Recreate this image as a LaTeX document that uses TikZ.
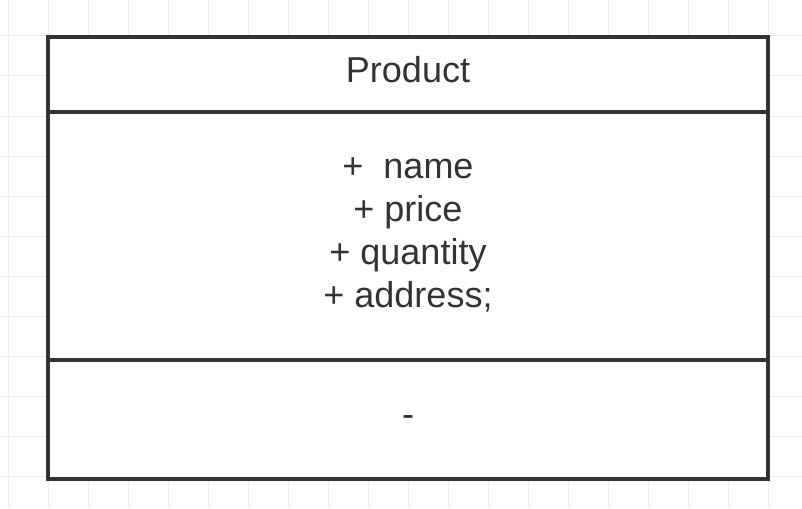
\documentclass[tikz,border=0pt]{standalone}
\usepackage{fontspec}
\setmainfont{Liberation Sans}
\usepackage{tikz}
\usepackage{xcolor}
\usetikzlibrary{positioning, calc}
\definecolor{InkGray}{HTML}{333333}
\definecolor{GridMinor}{HTML}{EEEEEE}
\definecolor{GridMajor}{HTML}{E0E0E0}

\begin{document}
\begin{tikzpicture}[x=1pt, y=-1pt,
    part/.style={rectangle, draw=InkGray, line width=4pt, minimum width=720pt, inner sep=0pt},
    umltext/.style={text=InkGray, font=\fontsize{36}{43}\selectfont, anchor=base, inner sep=0pt}]
    \useasboundingbox (0,0) rectangle (802,508);

    % Grid
    \foreach \i in {0,...,19} {
        \pgfmathsetmacro{\gx}{8+40*\i}
        \ifnum\numexpr\i-5*(\i/5)\relax=4
            \draw[GridMajor, line width=1pt] (\gx,0) -- (\gx,508);
        \else
            \draw[GridMinor, line width=1pt] (\gx,0) -- (\gx,508);
        \fi
    }
    \foreach \j in {0,...,11} {
        \pgfmathsetmacro{\gy}{36+40*\j}
        \ifnum\numexpr\j-5*(\j/5)\relax=4
            \draw[GridMajor, line width=1pt] (0,\gy) -- (802,\gy);
        \else
            \draw[GridMinor, line width=1pt] (0,\gy) -- (802,\gy);
        \fi
    }

    % Class box
    \node[part, fill=white, minimum height=441.5pt] (cls) at (408,257.75) {};
    \node[part, minimum height=75pt] (title) at (408,74.5) {};
    \node[part, minimum height=248pt] (attrs) at (408,236) {};
    \node[part, minimum height=118.5pt] (methods) at (408,419.25) {};

    % Texts
    \node[umltext] (tname) at (408,83) {Product};
    \node[umltext] (aname) at (408,178) {+ \ name};
    \node[umltext] (aprice) at (408,221) {+ price};
    \node[umltext] (aqty) at (408,264) {+ quantity};
    \node[umltext] (aaddr) at (408,307) {+ address;};
    \node[umltext] (mdash) at (408,426) {-};
\end{tikzpicture}
\end{document}
